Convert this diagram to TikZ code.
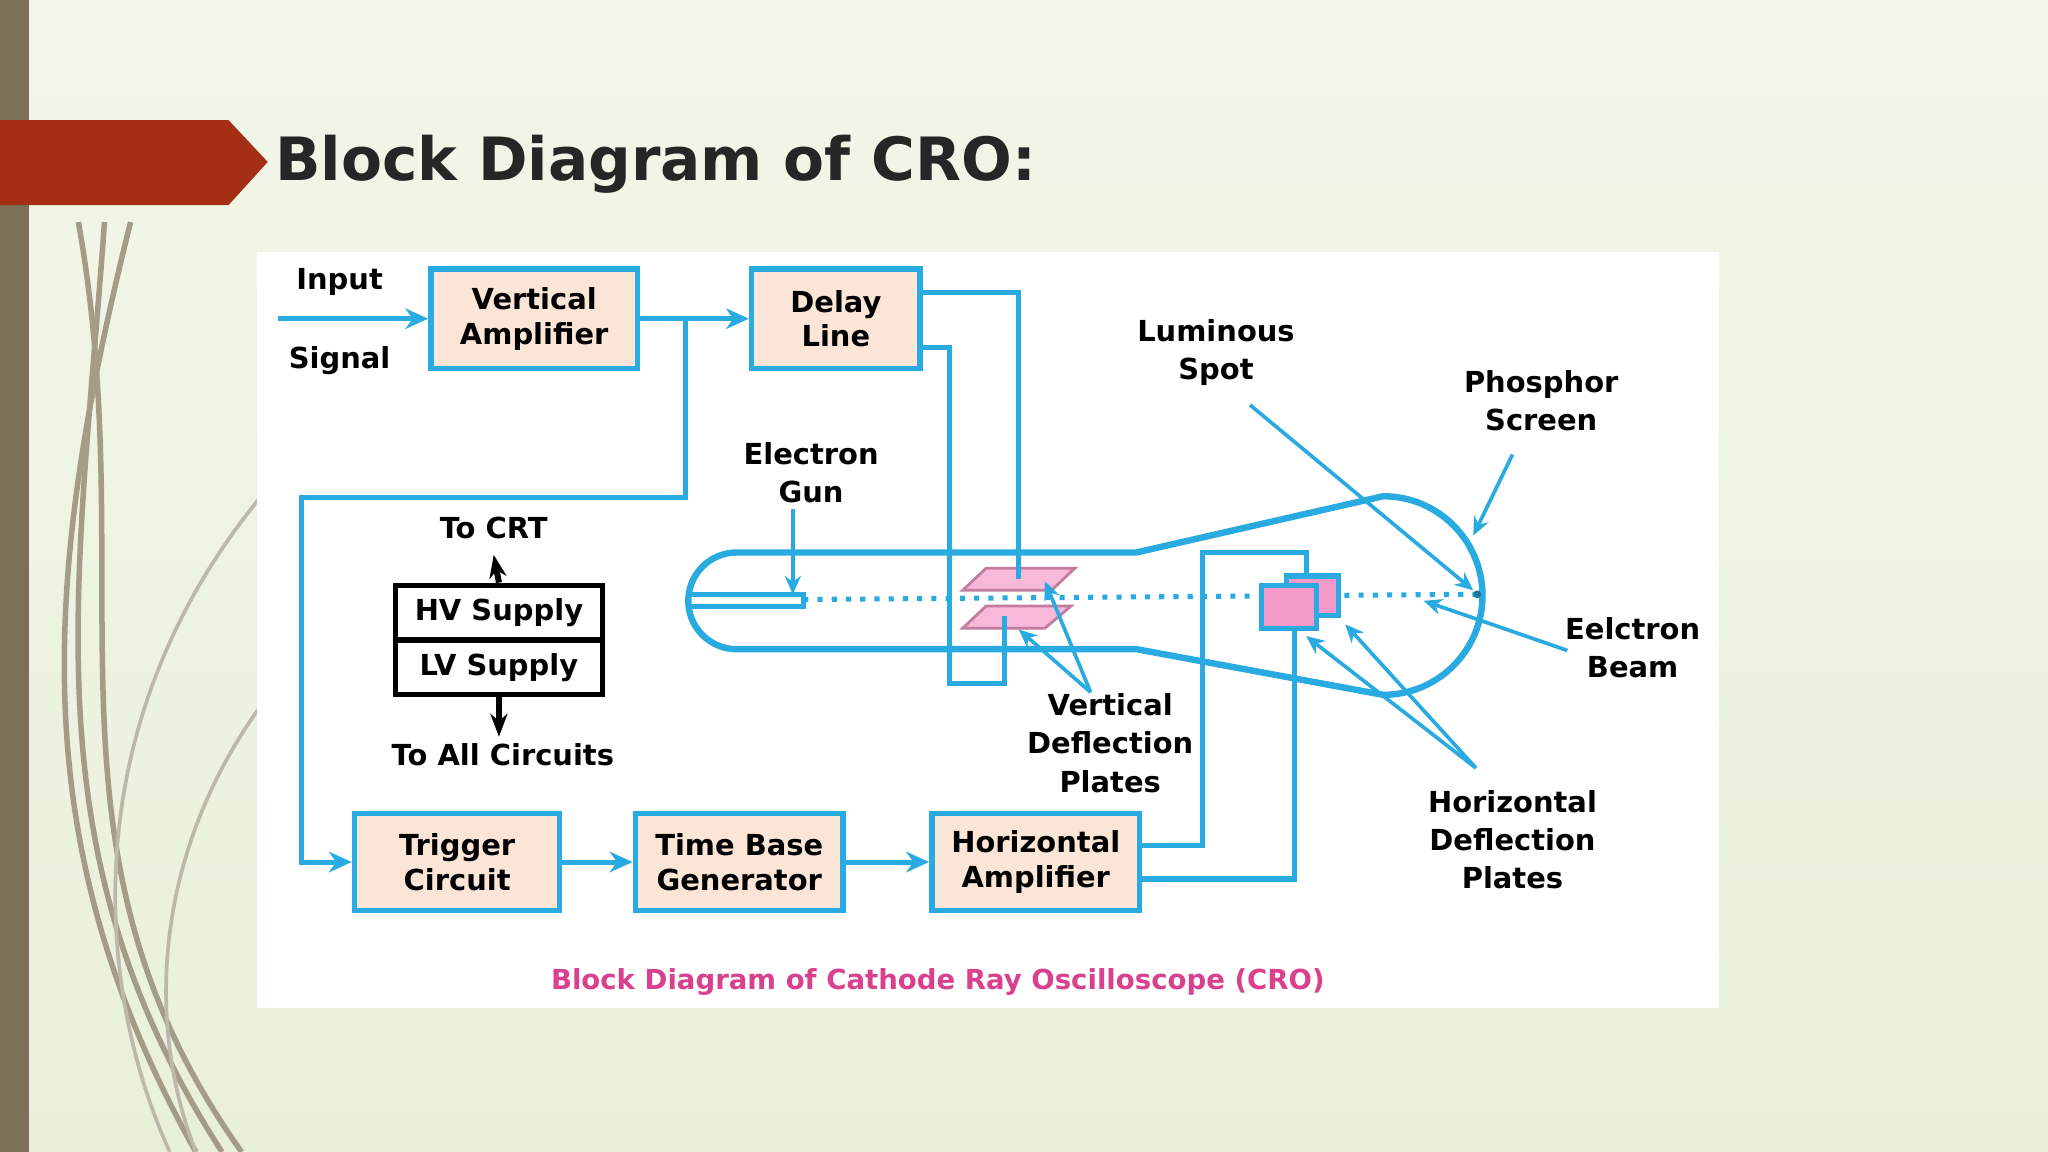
\documentclass[tikz,border=0pt]{standalone}
\usepackage{fontspec}
\setmainfont{DejaVu Sans}
\usetikzlibrary{arrows.meta}
\definecolor{cy}{HTML}{29ABE2}
\definecolor{peach}{HTML}{FBE5D6}
\definecolor{pinkp}{HTML}{F49AC8}
\definecolor{bgg}{HTML}{E9F0DA}
\definecolor{olive}{HTML}{7A7157}
\definecolor{redb}{HTML}{A52F14}
\definecolor{capc}{HTML}{D9418F}
\begin{document}
\begin{tikzpicture}[x=0.01cm,y=-0.01cm,
  blk/.style={draw=cy,line width=1.2pt,fill=peach,font=\fontsize{6.3}{7.6}\selectfont\bfseries,align=center,inner sep=0},
  sup/.style={draw=black,line width=1.1pt,fill=white,font=\fontsize{6.3}{7.6}\selectfont\bfseries,inner sep=0},
  lab/.style={font=\fontsize{6.3}{8.3}\selectfont\bfseries,align=center},
  wire/.style={draw=cy,line width=1.1pt},
  arr/.style={wire,-{Stealth[length=5pt,width=4.5pt]}},
  pt/.style={draw=cy,line width=0.8pt,-{Stealth[length=4pt,width=3.5pt]}}]
\useasboundingbox (0,0) rectangle (1568,882);
\shade[top color=bgg!60!white,bottom color=bgg] (0,0) rectangle (1568,882);
\fill[olive] (0,0) rectangle (22,882);
% decorative grass
\foreach \a/\b/\c in {80/60/170, 60/110/185, 100/30/150}{
  \draw[olive!70,line width=1.2pt] (\a,170) .. controls (\b,450) and (20,650) .. (\c,882);}
\draw[olive!50,line width=0.8pt] (200,380) .. controls (60,550) and (70,750) .. (130,882);
\draw[olive!50,line width=0.8pt] (200,540) .. controls (120,650) and (110,780) .. (150,882);
\fill[redb] (0,92) -- (175,92) -- (205,124) -- (175,157) -- (0,157) -- cycle;
\node[anchor=west,font=\fontsize{13}{15}\selectfont\bfseries,text=black!85,inner sep=0] (title) at (210,126) {Block Diagram of CRO:};
\fill[white] (197,193) rectangle (1316,772);
% blocks
\node[blk,minimum width=1.58cm,minimum height=0.76cm] (va) at (409,244) {Vertical\\Amplifier};
\node[blk,minimum width=1.29cm,minimum height=0.76cm] (dl) at (640,244) {Delay\\Line};
\node[blk,minimum width=1.57cm,minimum height=0.74cm] (tc) at (350,660) {Trigger\\Circuit};
\node[blk,minimum width=1.59cm,minimum height=0.74cm] (tb) at (566,660) {Time Base\\Generator};
\node[blk,minimum width=1.59cm,minimum height=0.74cm] (ha) at (793,660) {Horizontal\\Amplifier};
\node[sup,minimum width=1.58cm,minimum height=0.42cm] (hv) at (382,469) {HV Supply};
\node[sup,minimum width=1.58cm,minimum height=0.42cm] (lv) at (382,511) {LV Supply};
\node[lab] (in) at (260,216) {Input};
\node[lab] (sg) at (260,276) {Signal};
\node[lab] (tcrt) at (378,404) {To CRT};
\node[lab] (tall) at (385,578) {To All Circuits};
\node[lab] (eg) at (621,362) {Electron\\Gun};
\node[lab] (ls) at (931,270) {Luminous\\Spot};
\node[lab] (ps) at (1180,307) {Phosphor\\Screen};
\node[lab] (eb) at (1250,496) {Eelctron\\Beam};
\node[lab] (vdp) at (850,569) {Vertical\\Deflection\\Plates};
\node[lab] (hdp) at (1158,643) {Horizontal\\Deflection\\Plates};
\node[font=\fontsize{6}{7.6}\selectfont\bfseries,text=capc] (cap) at (718,752) {Block Diagram of Cathode Ray Oscilloscope (CRO)};
% supply arrows
\draw[black,line width=1.3pt,-{Stealth[length=5pt]}] (hv.north) -- (tcrt.south);
\draw[black,line width=1.3pt,-{Stealth[length=5pt]}] (lv.south) -- (382,564);
% tube
\draw[cy,line width=1.4pt] (870,423) -- (564,423) arc[start angle=90,end angle=270,radius=0.37cm] -- (870,497)
  -- (1059,532) arc[start angle=-90,end angle=90,radius=0.76cm] -- cycle;
\draw[cy,line width=1.1pt] (527,455) rectangle (615,464);
\draw[cy,line width=1.1pt,dotted] (615,459) -- (1130,455);
\fill[cy!70!black] (1131,455) circle (0.03cm);
% plates
\coordinate (vpt) at (780,443); \coordinate (vpb) at (769,472);
\draw[pinkp!80!black,fill=pinkp!70,line width=0.6pt] (755,435) -- (823,435) -- (805,452) -- (737,452) -- cycle;
\draw[pinkp!80!black,fill=pinkp!70,line width=0.6pt] (755,464) -- (820,464) -- (800,481) -- (737,481) -- cycle;
\draw[draw=cy,fill=pinkp,line width=1.1pt] (985,441) rectangle (1025,471);
\draw[draw=cy,fill=pinkp,line width=1.1pt] (966,448) rectangle (1008,481);
% wires
\draw[arr] (213,244) -- (va.west);
\draw[arr] (va.east) -- (dl.west);
\draw[arr] (525,244) -- (525,381) -- (231,381) -- (231,660) -- (tc.west);
\draw[arr] (tc.east) -- (tb.west);
\draw[arr] (tb.east) -- (ha.west);
\draw[wire] (705,224) -- (780,224) -- (vpt);
\draw[wire] (705,266) -- (727,266) -- (727,523) -- (769,523) -- (vpb);
\draw[wire] (873,647) -- (921,647) -- (921,423) -- (1000,423) -- (1000,441);
\draw[wire] (873,673) -- (991,673) -- (991,481);
% pointers
\draw[pt] (607,390) -- (607,455);
\draw[pt] (957,310) -- (1128,452);
\draw[pt] (1158,348) -- (1128,410);
\draw[pt] (1200,498) -- (1090,460);
\draw[pt] (835,530) -- (800,445);
\draw[pt] (835,530) -- (780,482);
\draw[pt] (1130,588) -- (1000,487);
\draw[pt] (1130,588) -- (1030,478);
\end{tikzpicture}
\end{document}
